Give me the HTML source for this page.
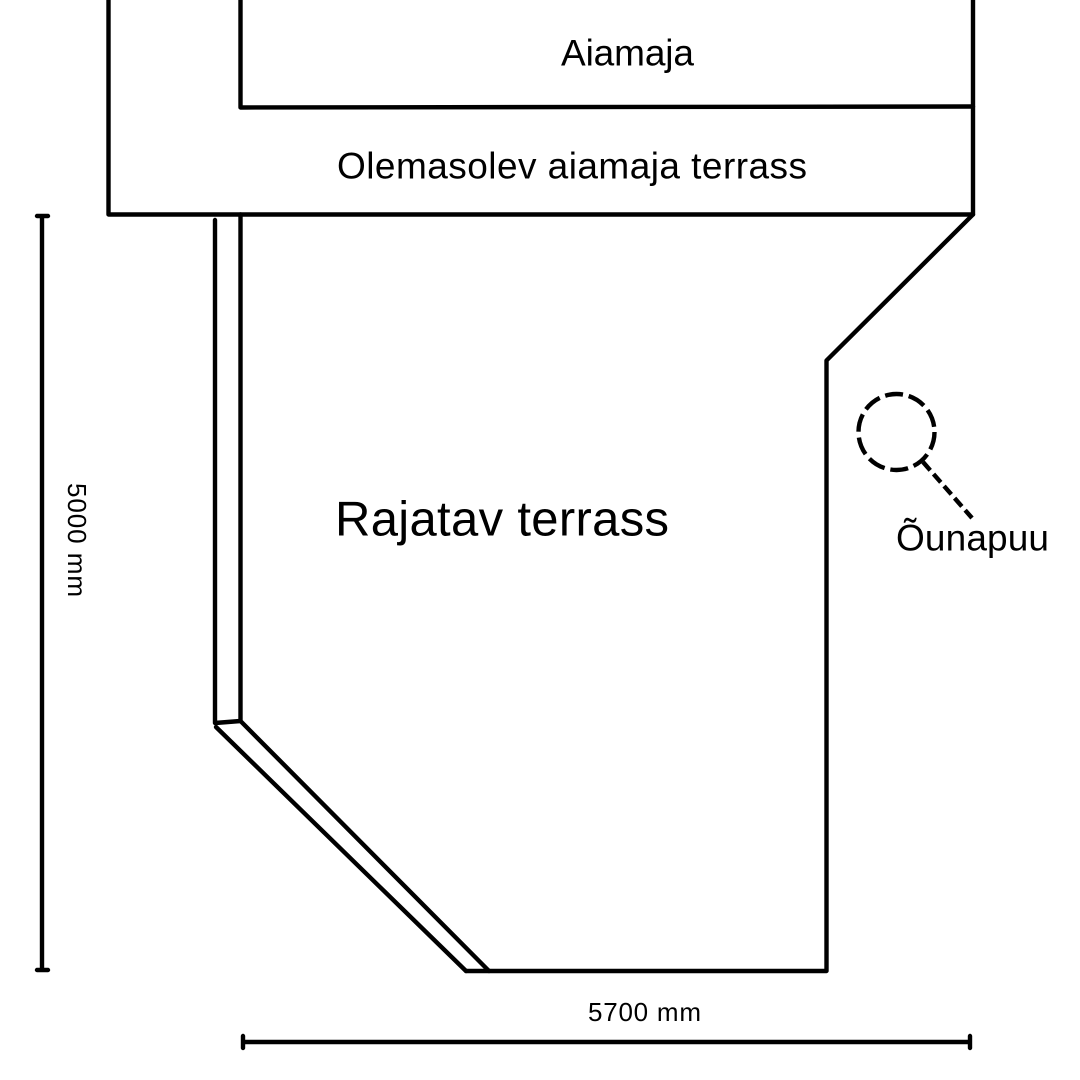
<!DOCTYPE html>
<html lang="et">
<head>
<meta charset="utf-8">
<title>Terrass</title>
<style>
html,body{margin:0;padding:0;background:#fff;}
svg{display:block;}
text{font-family:"Liberation Sans",sans-serif;fill:#000;}
</style>
</head>
<body>
<svg xmlns="http://www.w3.org/2000/svg" width="1080" height="1080" viewBox="0 0 1080 1080">
<rect width="1080" height="1080" fill="#fff"/>
<g fill="none" stroke="#000" stroke-width="4.400" stroke-linecap="round" stroke-linejoin="round">
<path d="M108.500 -5V214.500H973V-5"/>
<path d="M240.500 -5V107.500L973 106.500"/>
<path d="M973 214.500L826.500 360.500V971H466"/>
<path d="M240.500 214.500V721L489 971"/>
<path d="M215 220V723L240.500 721"/>
<path d="M216 727L466 971"/>
<path d="M42 216V970M37 216H48M37 970H48"/>
<path d="M243 1042H970M243 1036V1048M970 1036V1048"/>
</g>
<circle cx="896.500" cy="432" r="38" fill="none" stroke="#000" stroke-width="4.400" stroke-dasharray="18 5.900"/>
<path d="M923 462L972 518" fill="none" stroke="#000" stroke-width="4.400" stroke-dasharray="11 5"/>
<text x="561" y="65.500" font-size="37" textLength="133" lengthAdjust="spacing">Aiamaja</text>
<text x="337" y="178.500" font-size="37" textLength="470" lengthAdjust="spacing">Olemasolev aiamaja terrass</text>
<text x="335" y="535.500" font-size="49" textLength="334" lengthAdjust="spacing">Rajatav terrass</text>
<text x="896" y="550.500" font-size="37" textLength="153" lengthAdjust="spacing">Õunapuu</text>
<text x="588" y="1021" font-size="26" textLength="113" lengthAdjust="spacing">5700 mm</text>
<text transform="translate(68 483) rotate(90)" font-size="26" textLength="114" lengthAdjust="spacing">5000 mm</text>
</svg>
</body>
</html>
